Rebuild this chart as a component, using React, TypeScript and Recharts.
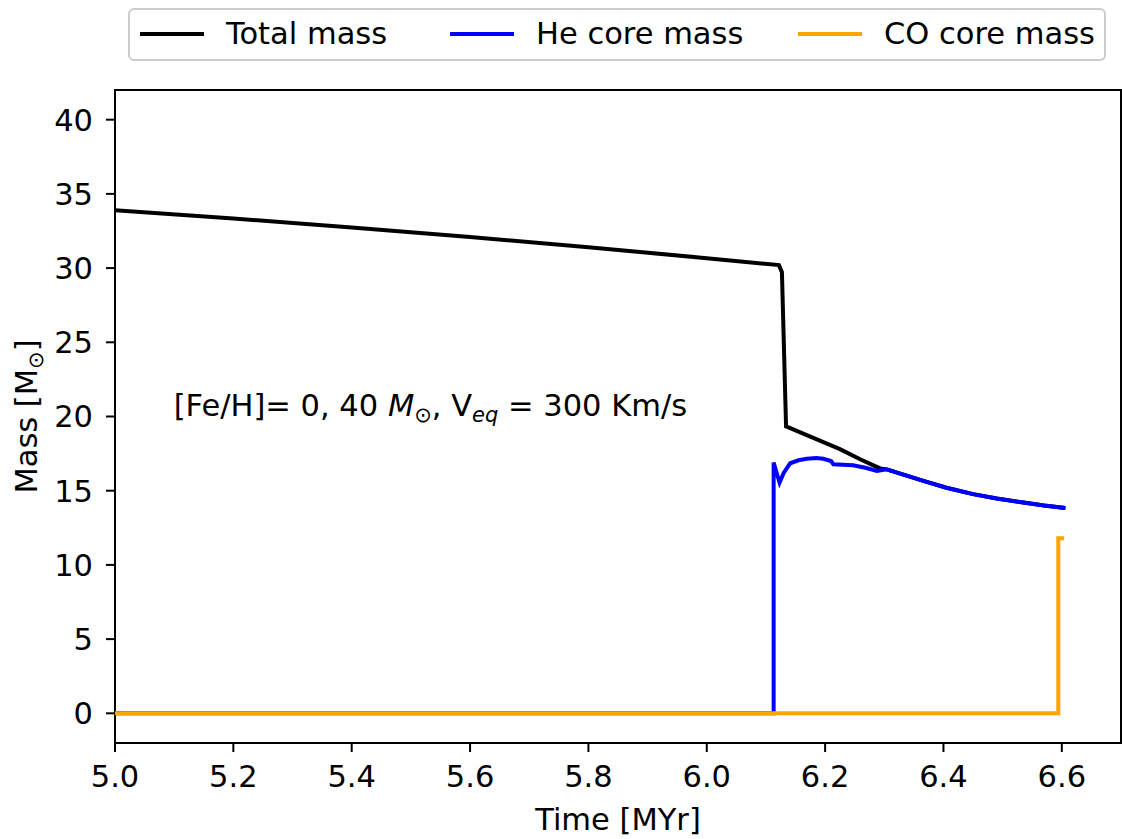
import { LineChart, Line, XAxis, YAxis, ReferenceArea, ReferenceDot } from 'recharts'

const FONT = '"DejaVu Sans", sans-serif'
const FS = 30.5
const SUB = 21

const X_TICKS = [5.0, 5.2, 5.4, 5.6, 5.8, 6.0, 6.2, 6.4, 6.6]
const Y_TICKS = [0, 5, 10, 15, 20, 25, 30, 35, 40]

// time [Myr] / mass [Msun]
const TOTAL_T = [5.0, 5.2, 5.4, 5.6, 5.8, 6.0, 6.122, 6.127, 6.134, 6.18, 6.225, 6.26, 6.293, 6.304, 6.335, 6.366, 6.405, 6.45, 6.49, 6.535, 6.57, 6.606]
const TOTAL_M = [33.9, 33.34, 32.73, 32.09, 31.4, 30.67, 30.2, 29.73, 19.33, 18.56, 17.8, 17.1, 16.5, 16.44, 16.05, 15.66, 15.2, 14.77, 14.47, 14.2, 14.0, 13.83]

const HE_T = [5.0, 6.113, 6.113, 6.123, 6.13, 6.141, 6.155, 6.169, 6.185, 6.197, 6.21, 6.214, 6.247, 6.268, 6.2875, 6.304, 6.335, 6.366, 6.405, 6.45, 6.49, 6.535, 6.57, 6.606]
const HE_M = [0, 0, 16.9, 15.55, 16.2, 16.85, 17.05, 17.15, 17.2, 17.15, 17.0, 16.78, 16.72, 16.55, 16.33, 16.44, 16.05, 15.66, 15.2, 14.77, 14.47, 14.2, 14.0, 13.83]

const CO_T = [5.0, 6.594, 6.594, 6.604]
const CO_M = [0, 0, 11.8, 11.8]

const zip = (ts: number[], ms: number[]) => ts.map((t, i) => ({ t, m: ms[i] }))

const SERIES = [
  { name: 'Total mass', color: '#000000', data: zip(TOTAL_T, TOTAL_M) },
  { name: 'He core mass', color: '#0000ff', data: zip(HE_T, HE_M) },
  { name: 'CO core mass', color: '#ffa500', data: zip(CO_T, CO_M) },
]

const LEGEND_X = [140, 450, 798]

function Annotation({ viewBox }: any) {
  const { x, y } = viewBox
  return (
    <text x={x} y={y} fontSize={FS} fill="#000" fontFamily={FONT}>
      <tspan>{'[Fe/H]= 0, 40 '}</tspan>
      <tspan fontStyle="italic">M</tspan>
      <tspan fontSize={SUB} dy={6}>⊙</tspan>
      <tspan dy={-6}>{', V'}</tspan>
      <tspan fontSize={SUB} fontStyle="italic" dy={6}>eq</tspan>
      <tspan dy={-6}>{' = 300 Km/s'}</tspan>
    </text>
  )
}

function YTitle({ viewBox }: any) {
  const cx = viewBox.x + 37
  const cy = viewBox.y + viewBox.height / 2
  return (
    <text transform={`rotate(-90 ${cx} ${cy})`} x={cx} y={cy} textAnchor="middle" fontSize={FS} fill="#000" fontFamily={FONT}>
      <tspan>Mass [M</tspan>
      <tspan fontSize={SUB} dy={6}>⊙</tspan>
      <tspan dy={-6}>]</tspan>
    </text>
  )
}

function XTitle({ viewBox }: any) {
  return (
    <text x={viewBox.x + viewBox.width / 2} y={viewBox.y + 87} textAnchor="middle" fontSize={FS} fill="#000" fontFamily={FONT}>
      Time [MYr]
    </text>
  )
}

export default function App() {
  return (
    <div style={{ position: 'absolute', left: 0, top: 0, width: 1122, height: 839, background: '#fff', fontFamily: FONT }}>
      <LineChart width={1122} height={839} margin={{ top: 90, right: 1, bottom: 0, left: 0 }}>
        <XAxis
          dataKey="t"
          type="number"
          domain={[5, 6.7]}
          allowDataOverflow
          ticks={X_TICKS}
          tickFormatter={(v: number) => v.toFixed(1)}
          height={96}
          axisLine={false}
          tickSize={9}
          tickMargin={13}
          tickLine={{ stroke: '#000', strokeWidth: 2 }}
          tick={{ fill: '#000', fontSize: FS }}
          label={<XTitle />}
        />
        <YAxis
          dataKey="m"
          type="number"
          domain={[-2, 42]}
          allowDataOverflow
          ticks={Y_TICKS}
          width={115}
          axisLine={false}
          tickSize={9}
          tickMargin={13}
          tickLine={{ stroke: '#000', strokeWidth: 2 }}
          tick={{ fill: '#000', fontSize: FS }}
          label={<YTitle />}
        />
        {SERIES.map(s => (
          <Line
            key={s.name}
            data={s.data}
            dataKey="m"
            name={s.name}
            type="linear"
            stroke={s.color}
            strokeWidth={4}
            dot={false}
            activeDot={false}
            isAnimationActive={false}
          />
        ))}
        <ReferenceDot x={5.1} y={20} r={0.5} fill="none" stroke="none" label={<Annotation />} />
        <ReferenceArea x1={5} x2={6.7} y1={-2} y2={42} fill="none" stroke="#000" strokeWidth={2} ifOverflow="visible" />
      </LineChart>
      <svg style={{ position: 'absolute', left: 0, top: 0 }} width={1122} height={70}>
        <rect x={129} y={9} width={976} height={51} rx={5} fill="#fff" fillOpacity={0.8} stroke="#cccccc" strokeWidth={2} />
        {SERIES.map((s, i) => (
          <g key={s.name}>
            <line x1={LEGEND_X[i]} x2={LEGEND_X[i] + 64} y1={34} y2={34} stroke={s.color} strokeWidth={4} />
            <text x={LEGEND_X[i] + 86} y={44} fontSize={FS} fill="#000" fontFamily={FONT}>{s.name}</text>
          </g>
        ))}
      </svg>
    </div>
  )
}
